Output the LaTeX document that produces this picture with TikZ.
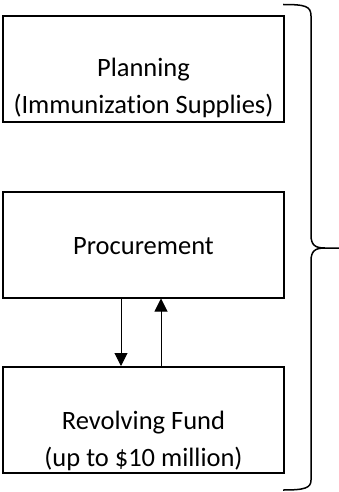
\documentclass[tikz,border=0pt]{standalone}
\usepackage{fontspec}
\setmainfont{Carlito}[Ligatures=NoCommon]
\usetikzlibrary{arrows.meta}

\begin{document}
\begin{tikzpicture}[x=1pt,y=-1pt,
  stagebox/.style={draw,line width=2pt,minimum width=281pt,minimum height=106pt,inner sep=0pt},
  stagetext/.style={anchor=base,align=center,inner sep=0pt,font=\fontsize{26.5}{36.5}\selectfont},
  flow/.style={line width=1pt,-{Triangle[width=13pt,length=13pt]}}]
\useasboundingbox (0,0) rectangle (339,492);
\node[stagebox] (plan) at (143.5,69) {};
\node[stagebox] (proc) at (143.5,244.5) {};
\node[stagebox] (fund) at (143.5,420) {};
\node[stagetext] (plantext) at (143.5,113.5) {Planning\\(Immunization Supplies)};
\node[stagetext] (proctext) at (143.5,254) {Procurement};
\node[stagetext] (fundtext) at (143.5,466) {Revolving Fund\\(up to \$10 million)};
\draw[flow] ([xshift=-22.5pt]proc.south) -- ([xshift=-22.5pt]fund.north);
\draw[flow] ([xshift=17.5pt]fund.north) -- ([xshift=17.5pt]proc.south);
\draw[line width=1.5pt] (283,4.5) .. controls (305,4.5) and (311,6) .. (311,16)
  -- (311,235) .. controls (311,245) and (315,248) .. (325,248) -- (339,248)
  (325,248) .. controls (315,248) and (311,251) .. (311,261)
  -- (311,480) .. controls (311,488) and (305,490) .. (283,490);
\end{tikzpicture}
\end{document}
